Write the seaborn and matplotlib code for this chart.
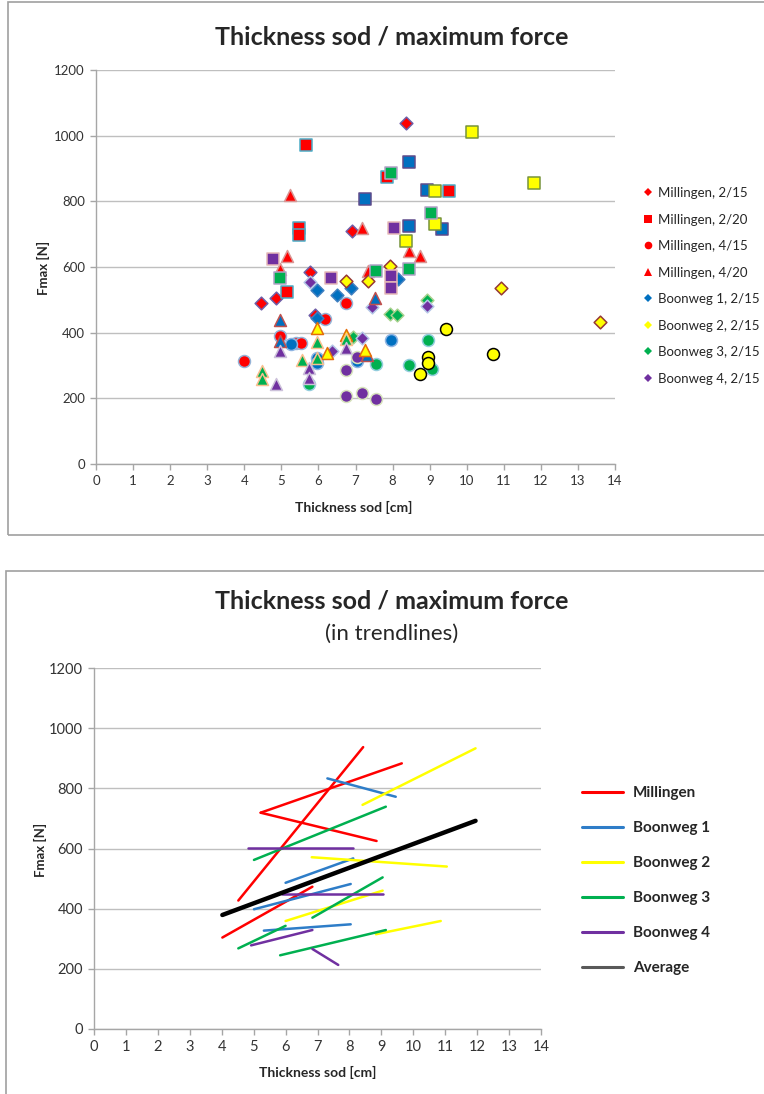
import numpy as np
import pandas as pd
import seaborn as sns
import matplotlib.pyplot as plt
from matplotlib.lines import Line2D
from matplotlib.patches import Rectangle

# ---- DATA: scatter (thickness sod [cm], Fmax [N]) per site / treatment ----
mil_215_x = [8.35, 6.9, 5.76, 4.46, 4.86, 5.9]
mil_215_y = [1038, 711, 586, 491, 505, 455]
mil_220_x = [5.66, 5.48, 5.48, 7.84, 9.53, 5.16]
mil_220_y = [972, 720, 697, 875, 830, 523]
mil_415_x = [3.98, 4.96, 5.4, 5.52, 6.18, 6.74]
mil_415_y = [314, 390, 369, 368, 441, 489]
mil_420_x = [5.24, 7.17, 5.15, 4.95, 7.34, 8.44, 8.74]
mil_420_y = [819, 719, 632, 593, 589, 650, 632]

bw1_215_x = [5.95, 6.5, 6.87, 5.95, 8.15]
bw1_215_y = [530, 515, 535, 444, 563]
bw2_215_x = [6.74, 7.35, 7.93, 10.92, 13.6]
bw2_215_y = [557, 558, 604, 535, 434]
bw3_215_x = [6.94, 7.93, 8.11, 8.94]
bw3_215_y = [388, 457, 454, 500]
bw4_215_x = [5.76, 6.36, 7.17, 7.44, 8.94]
bw4_215_y = [555, 344, 383, 479, 481]

bw1_220_x = [7.26, 8.45, 8.92, 8.45, 9.34]
bw1_220_y = [806, 921, 833, 726, 715]
bw2_220_x = [10.14, 11.82, 9.14, 9.14, 8.35]
bw2_220_y = [1010, 855, 830, 731, 680]
bw3_220_x = [4.96, 7.54, 7.95, 8.45, 9.04]
bw3_220_y = [566, 589, 885, 594, 764]
bw4_220_x = [4.77, 6.35, 7.95, 7.95, 8.05]
bw4_220_y = [623, 566, 573, 537, 718]

bw1_415_x = [5.27, 5.95, 5.95, 7.05, 7.95]
bw1_415_y = [365, 322, 307, 315, 378]
bw2_415_x = [9.44, 8.95, 8.95, 10.72, 8.74]
bw2_415_y = [411, 327, 307, 334, 274]
bw3_415_x = [5.75, 7.55, 8.45, 8.95, 9.06]
bw3_415_y = [244, 304, 302, 378, 289]
bw4_415_x = [6.74, 6.74, 7.17, 7.05, 7.55]
bw4_415_y = [286, 207, 217, 325, 198]

bw1_420_x = [4.96, 4.96, 7.53, 7.3]
bw1_420_y = [439, 376, 505, 332]
bw2_420_x = [5.95, 6.22, 6.74, 7.26]
bw2_420_y = [413, 337, 393, 347]
bw3_420_x = [4.47, 4.47, 5.57, 5.95, 5.95, 6.74]
bw3_420_y = [284, 258, 317, 373, 322, 380]
bw4_420_x = [4.86, 4.96, 5.75, 5.75, 6.74]
bw4_420_y = [244, 345, 291, 261, 352]

legend_labels = ["Millingen, 2/15", "Millingen, 2/20", "Millingen, 4/15", "Millingen, 4/20",
                 "Boonweg 1, 2/15", "Boonweg 2, 2/15", "Boonweg 3, 2/15", "Boonweg 4, 2/15"]

# ---- DATA: trendline end points ----
trend_site = ["Millingen", "Millingen", "Millingen", "Millingen",
              "Boonweg 1", "Boonweg 1", "Boonweg 1", "Boonweg 1",
              "Boonweg 2", "Boonweg 2", "Boonweg 2", "Boonweg 2",
              "Boonweg 3", "Boonweg 3", "Boonweg 3", "Boonweg 3",
              "Boonweg 4", "Boonweg 4", "Boonweg 4", "Boonweg 4"]
trend_x0 = [4.52, 5.22, 5.22, 4.02, 7.31, 6.0, 5.01, 5.32, 8.41, 6.82, 6.0, 8.83,
            5.01, 6.84, 4.52, 5.83, 4.83, 5.88, 4.92, 6.84]
trend_x1 = [8.43, 9.64, 8.85, 6.84, 9.45, 8.12, 8.04, 8.04, 11.95, 11.05, 9.04, 10.86,
            9.14, 9.04, 6.0, 9.14, 8.12, 9.04, 6.84, 7.65]
trend_y0 = [427, 719, 719, 304, 833, 486, 398, 327, 745, 571, 359, 315,
            562, 370, 268, 245, 601, 448, 278, 266]
trend_y1 = [937, 883, 625, 473, 772, 567, 482, 348, 933, 540, 460, 359,
            739, 504, 343, 329, 601, 448, 329, 213]
avg_x = [4.02, 11.95]
avg_y = [379, 692]

# ---- STYLE ----
RED, BLUE, YELLOW, GREEN, PURPLE = "#FF0000", "#0070C0", "#FFFF00", "#00B050", "#7030A0"
site_fill = {"mil": RED, "bw1": BLUE, "bw2": YELLOW, "bw3": GREEN, "bw4": PURPLE}
marker_of = {"215": ("D", 42), "220": ("s", 64), "415": ("o", 74), "420": ("^", 74)}
edge_of = {
    ("mil", "215"): "#6E5FA8", ("mil", "220"): "#4BACC6", ("mil", "415"): "#95B3D7", ("mil", "420"): "#D99694",
    ("bw1", "215"): "#3F7FC0", ("bw1", "220"): "#5F4B8B", ("bw1", "415"): "#8EB4E3", ("bw1", "420"): "#C0504D",
    ("bw2", "215"): "#953735", ("bw2", "220"): "#77933C", ("bw2", "415"): "#000000", ("bw2", "420"): "#E46C0A",
    ("bw3", "215"): "#A9D18E", ("bw3", "220"): "#B3A2C7", ("bw3", "415"): "#93CDDD", ("bw3", "420"): "#FAC090",
    ("bw4", "215"): "#B4C7E7", ("bw4", "220"): "#E6B9B8", ("bw4", "415"): "#D7E4BD", ("bw4", "420"): "#CCC1DA",
}

series = [("mil", "215", mil_215_x, mil_215_y), ("mil", "220", mil_220_x, mil_220_y),
          ("mil", "415", mil_415_x, mil_415_y), ("mil", "420", mil_420_x, mil_420_y),
          ("bw1", "215", bw1_215_x, bw1_215_y), ("bw2", "215", bw2_215_x, bw2_215_y),
          ("bw3", "215", bw3_215_x, bw3_215_y), ("bw4", "215", bw4_215_x, bw4_215_y),
          ("bw1", "220", bw1_220_x, bw1_220_y), ("bw2", "220", bw2_220_x, bw2_220_y),
          ("bw3", "220", bw3_220_x, bw3_220_y), ("bw4", "220", bw4_220_x, bw4_220_y),
          ("bw1", "415", bw1_415_x, bw1_415_y), ("bw3", "415", bw3_415_x, bw3_415_y),
          ("bw2", "415", bw2_415_x, bw2_415_y), ("bw4", "415", bw4_415_x, bw4_415_y),
          ("bw1", "420", bw1_420_x, bw1_420_y), ("bw2", "420", bw2_420_x, bw2_420_y),
          ("bw3", "420", bw3_420_x, bw3_420_y), ("bw4", "420", bw4_420_x, bw4_420_y)]

trend_colors = {"Millingen": RED, "Boonweg 1": "#2E7DC8", "Boonweg 2": YELLOW,
                "Boonweg 3": GREEN, "Boonweg 4": PURPLE}

sns.set_style("white")
plt.rcParams['font.family'] = ['Lato', 'DejaVu Sans']

W, H = 764, 1094
fig = plt.figure(figsize=(W / 100, H / 100), dpi=100)


def fx(px):
    return px / W


def fy(py):
    return 1 - py / H


# chart boxes
fig.add_artist(Rectangle((fx(8), fy(535)), 1.0, fy(2) - fy(535), transform=fig.transFigure,
                         fill=False, edgecolor="#A0A0A0", lw=1.2))
fig.add_artist(Rectangle((fx(6), -0.05), 1.0, fy(571) + 0.05, transform=fig.transFigure,
                         fill=False, edgecolor="#A0A0A0", lw=1.2))


def style_axes(ax, labsize):
    ax.set_xlim(0, 14)
    ax.set_ylim(0, 1200)
    ax.set_xticks(range(0, 15))
    ax.set_yticks(range(0, 1201, 200))
    ax.yaxis.grid(True, color="#BFBFBF", lw=1.0)
    ax.xaxis.grid(False)
    ax.set_axisbelow(True)
    for s in ["top", "right"]:
        ax.spines[s].set_visible(False)
    for s in ["left", "bottom"]:
        ax.spines[s].set_color("#A6A6A6")
        ax.spines[s].set_linewidth(1.0)
    ax.tick_params(axis="both", direction="out", length=4, width=1, color="#A6A6A6",
                   labelcolor="#333333", labelsize=labsize, pad=4)
    ax.tick_params(axis="both", bottom=True, left=True)
    ax.set_xlabel("")
    ax.set_ylabel("")


# ---- TOP: scatter ----
ax1 = fig.add_axes([fx(96), fy(464), fx(615) - fx(96), fy(70) - fy(464)])
for site, treat, xs, ys in series:
    m, s = marker_of[treat]
    sns.scatterplot(x=xs, y=ys, marker=m, s=s, color=site_fill[site],
                    edgecolor=edge_of[(site, treat)], linewidth=1.1, ax=ax1, zorder=3)
style_axes(ax1, 9.5)

fig.text(fx(392), fy(37), "Thickness sod / maximum force", ha="center", va="center",
         fontsize=18, fontweight="bold")
fig.text(fx(43), fy(268), "Fmax [N]", ha="center", va="center", rotation=90,
         fontsize=9.5, fontweight="bold")
fig.text(fx(354), fy(507), "Thickness sod [cm]", ha="center", va="center",
         fontsize=10, fontweight="bold")

leg_handles = []
for site, treat, xs, ys in series[:8]:
    m, s = marker_of[treat]
    leg_handles.append(Line2D([], [], ls="none", marker=m, color=site_fill[site],
                              markersize=5.5 if m != "D" else 4.5, markeredgewidth=0))
fig.legend(leg_handles, legend_labels, loc="upper left", bbox_to_anchor=(fx(643), fy(187)),
           frameon=False, fontsize=9.5, handlelength=0.7, handletextpad=0.4,
           labelspacing=1.1, borderpad=0, borderaxespad=0)

# ---- BOTTOM: trendlines ----
ax2 = fig.add_axes([fx(94), fy(1029), fx(541) - fx(94), fy(668) - fy(1029)])
trend = pd.DataFrame({
    "seg": np.repeat(np.arange(len(trend_site)), 2),
    "site": np.repeat(trend_site, 2),
    "x": np.ravel(np.column_stack([trend_x0, trend_x1])),
    "y": np.ravel(np.column_stack([trend_y0, trend_y1])),
})
sns.lineplot(data=trend, x="x", y="y", hue="site", units="seg", estimator=None, sort=False,
             palette=trend_colors, lw=1.8, legend=False, ax=ax2, zorder=3)
sns.lineplot(x=avg_x, y=avg_y, color="black", lw=3.2, ax=ax2, zorder=4)
style_axes(ax2, 10.5)

fig.text(fx(392), fy(601), "Thickness sod / maximum force", ha="center", va="center",
         fontsize=18, fontweight="bold")
fig.text(fx(392), fy(634), "(in trendlines)", ha="center", va="center", fontsize=16)
fig.text(fx(40), fy(850), "Fmax [N]", ha="center", va="center", rotation=90,
         fontsize=9.5, fontweight="bold")
fig.text(fx(318), fy(1072), "Thickness sod [cm]", ha="center", va="center",
         fontsize=10, fontweight="bold")

tl_handles = [Line2D([], [], color=trend_colors[k], lw=2.2) for k in trend_colors]
tl_handles.append(Line2D([], [], color="#595959", lw=2.2))
tl_labels = list(trend_colors) + ["Average"]
fig.legend(tl_handles, tl_labels, loc="upper left", bbox_to_anchor=(fx(582), fy(786)),
           frameon=False, handlelength=2.7, handletextpad=0.65,
           labelspacing=1.38, borderpad=0, borderaxespad=0, prop={"weight": "bold", "size": 11})

fig.savefig("out.png", dpi=100)
